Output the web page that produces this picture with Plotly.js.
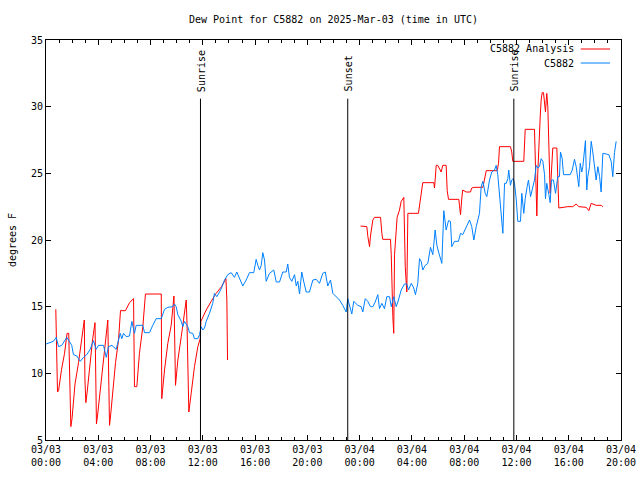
<!DOCTYPE html>
<html>
<head>
<meta charset="utf-8">
<script src="https://cdn.plot.ly/plotly-3.0.1.min.js"></script>
<style>html,body{margin:0;padding:0;background:#fff}#chart{width:640px;height:480px}</style>
</head>
<body>
<div id="chart"></div>
<script>
// Hours after 2025-03-03 00:00 UTC
const obsHours = [0,0.57,0.78,0.96,1.21,1.59,1.72,1.97,2.10,2.36,
2.62,2.87,3.12,3.38,3.63,3.84,4.02,4.40,4.61,4.78,
5.04,5.37,5.55,5.68,5.80,5.93,6.14,6.39,6.57,6.77,
6.90,7.41,7.54,7.92,8.17,8.43,8.82,9.07,9.32,9.70,
9.83,9.96,10.09,10.35,10.47,10.60,10.85,10.98,11.23,11.36,
11.62,11.75,11.88,12.00,12.13,12.26,12.51,12.76,12.89,13.07,
13.28,13.43,13.66,13.91,14.17,14.42,14.60,14.81,15.06,15.32,
15.57,15.90,16.08,16.21,16.34,16.47,16.59,16.72,16.85,17.10,
17.43,17.62,17.87,18.12,18.38,18.50,18.63,18.81,19.02,19.15,
19.27,19.40,19.57,19.73,19.91,20.16,20.42,20.68,20.93,21.18,
21.37,21.56,21.77,21.95,22.21,22.46,22.71,22.97,23.09,23.22,
23.40,23.55,23.74,23.86,24.12,24.24,24.43,24.62,24.83,25.01,
25.19,25.39,25.52,25.70,25.90,26.08,26.29,26.42,26.61,26.80,
26.97,27.18,27.43,27.61,27.74,27.95,28.14,28.27,28.45,28.58,
28.71,28.83,29.02,29.22,29.42,29.60,29.78,29.91,30.04,30.29,
30.44,30.62,30.80,30.95,31.05,31.26,31.56,31.72,31.89,32.15,
32.41,32.58,32.74,32.92,33.17,33.30,33.43,33.61,33.73,33.94,
34.11,34.32,34.45,34.57,34.70,34.83,34.96,35.09,35.22,35.34,
35.41,35.54,35.64,35.75,35.85,35.98,36.10,36.31,36.41,36.56,
36.67,36.82,36.92,37.08,37.25,37.38,37.51,37.63,37.76,37.89,
38.02,38.15,38.22,38.32,38.48,38.58,38.68,38.83,38.99,39.16,
39.29,39.37,39.50,39.60,40.11,40.27,40.44,40.57,40.69,40.77,
40.88,41.00,41.08,41.21,41.28,41.38,41.46,41.59,41.72,41.84,
41.97,42.10,42.23,42.36,42.48,42.61,42.87,43.07,43.25,43.37,
43.50,43.63];
const obsDew = [12.2,12.4,12.7,12.0,12.1,12.7,12.5,12.1,11.4,11.3,
10.9,11.2,11.4,11.8,12.45,11.8,12.1,12.1,11.2,12.0,
12.1,11.8,12.5,13.0,12.6,13.0,12.75,12.8,13.9,13.0,
13.6,13.6,13.05,13.05,13.6,14.1,14.1,14.8,14.95,15.0,
15.2,15.0,14.4,13.9,13.5,13.9,13.5,13.05,13.0,12.6,
12.6,12.9,13.5,13.25,13.4,13.9,14.5,15.25,16.0,15.75,
16.1,16.4,17.0,17.4,17.55,17.2,17.6,17.1,16.55,17.0,
17.55,17.55,18.55,18.1,17.75,18.1,19.05,18.5,16.9,17.5,
17.75,16.85,16.85,17.6,17.6,18.2,17.2,16.9,17.4,16.55,
16.9,15.95,17.6,16.85,16.1,16.1,17.0,17.05,16.75,17.5,
17.6,16.55,17.0,16.0,15.75,15.5,15.1,14.6,15.6,15.1,
14.45,15.4,15.25,15.1,15.0,14.6,15.6,15.4,15.0,15.0,
15.35,15.9,14.85,15.25,14.85,15.75,15.75,15.0,15.75,15.0,
15.5,16.25,16.7,16.7,16.25,16.75,16.4,15.9,16.75,18.6,
18.4,17.75,18.1,18.25,19.45,18.9,20.75,19.6,19.1,18.25,
22.2,20.75,21.45,21.4,19.5,19.9,19.9,20.5,20.4,21.0,
21.5,21.0,20.0,21.0,22.0,24.0,24.4,23.5,23.25,24.5,
25.1,25.25,25.6,24.9,23.25,22.0,20.5,24.25,24.25,24.6,
25.25,24.1,24.5,24.6,24.25,23.1,21.4,21.4,23.5,22.0,
23.1,24.0,24.5,23.25,23.9,24.5,25.6,25.4,25.5,26.1,
25.9,24.9,23.1,24.25,23.4,22.8,24.5,24.5,23.5,24.75,
24.75,26.6,26.1,24.9,24.9,25.25,26.05,25.5,24.6,24.0,
25.75,25.1,25.5,26.75,27.45,23.75,24.75,25.5,27.4,26.6,
25.5,24.5,25.5,24.75,23.6,26.5,26.45,26.4,25.9,24.75,
26.55,27.4];

const analysisHours = [0.75,0.88,0.96,1.19,1.42,1.61,1.74,1.84,1.90,1.99,
2.22,2.49,2.72,2.87,2.93,2.98,3.05,3.14,3.33,3.56,
3.75,3.81,3.86,3.94,4.13,4.32,4.55,4.73,4.81,4.86,
4.94,5.09,5.32,5.55,5.70,6.08,6.39,6.70,6.77,6.95,
7.15,7.41,7.61,8.82,8.86,9.07,9.32,9.58,9.79,9.91,
10.09,10.35,10.60,10.73,10.79,10.93,11.11,11.36,11.62,11.80,
11.85,12.26,12.64,13.02,13.43,13.77,13.84,13.89,
18.00,
24.07,24.55,24.63,24.76,24.83,25.01,25.14,25.60,25.70,25.77,
26.36,26.42,26.54,26.61,26.67,26.80,26.87,27.05,27.18,27.38,
27.49,27.61,27.69,28.50,28.58,28.71,28.83,29.68,29.73,29.86,
29.98,30.24,30.36,30.62,30.70,30.80,31.59,31.64,31.72,31.82,
31.89,32.15,32.48,32.58,32.74,33.43,33.69,34.53,34.63,34.70,
35.54,35.64,35.72,36.56,36.67,37.38,37.50,37.56,37.63,37.71,
37.82,37.89,37.97,38.07,38.15,38.22,38.28,38.32,38.40,38.48,
38.53,38.58,38.66,38.74,38.78,39.09,39.16,39.24,39.93,40.31,
40.57,40.77,41.34,41.54,41.72,41.84,42.10,42.48,42.61];
const analysisDew = [14.8,8.6,8.7,10.3,11.5,13.0,13.0,8.0,6.0,6.6,
9.2,10.8,12.4,13.2,14.0,9.5,7.8,8.5,10.5,12.5,
13.8,10.0,6.2,6.8,8.5,10.5,12.5,14.0,9.0,6.1,
6.8,8.5,10.8,12.5,14.7,14.7,15.3,15.6,9.0,9.0,
11.5,13.5,15.95,15.95,8.1,10.25,12.25,13.6,15.8,9.1,
11.0,12.75,14.5,15.5,13.75,7.1,8.5,10.5,12.0,12.6,
13.9,14.75,15.4,16.0,16.5,17.1,15.5,11.0,
null,
21.05,21.0,20.25,19.5,20.3,21.5,21.7,21.7,20.5,20.05,
20.05,18.9,14.25,13.0,18.9,20.75,21.7,22.25,22.9,23.2,
18.0,16.1,22.0,22.0,22.5,23.6,24.3,24.3,23.9,25.6,
25.6,25.1,25.6,25.6,23.7,23.05,23.05,22.6,21.9,23.15,
23.75,23.6,23.6,23.9,23.95,23.95,25.2,25.2,25.75,27.0,
27.0,26.6,25.9,25.9,28.3,28.3,23.0,21.8,25.0,27.5,
29.3,30.5,31.05,31.05,30.4,29.6,30.5,31.0,30.0,27.0,
25.0,23.5,24.8,26.6,26.9,26.9,23.75,22.4,22.5,22.5,
22.7,22.5,22.45,22.2,22.75,22.7,22.6,22.6,22.5];

const sunLabels = ['Sunrise', 'Sunset', 'Sunrise'];
const sunHours = [11.82, 23.09, 35.80];
const sunLineTop = 30.6;

const seriesNames = ['C5882 Analysis', 'C5882'];
const seriesColors = ['#ff0000', '#0080ff'];

const T0 = Date.UTC(2025, 2, 3);
function toTime(h) {
  return new Date(T0 + Math.round(h * 3600000)).toISOString().slice(0, 19).replace('T', ' ');
}

const traces = [
  { x: analysisHours.map(toTime), y: analysisDew, type: 'scatter', mode: 'lines',
    name: seriesNames[0], line: { color: seriesColors[0], width: 1 }, connectgaps: false, showlegend: false },
  { x: obsHours.map(toTime), y: obsDew, type: 'scatter', mode: 'lines',
    name: seriesNames[1], line: { color: seriesColors[1], width: 1 }, showlegend: false }
];

const shapes = sunHours.map(h => ({
  type: 'line', xref: 'x', yref: 'y', x0: toTime(h), x1: toTime(h), y0: 5, y1: sunLineTop,
  line: { color: 'black', width: 1 }
}));
const annotations = sunHours.map((h, i) => ({
  x: toTime(h), y: sunLineTop, xref: 'x', yref: 'y', text: sunLabels[i], showarrow: false,
  textangle: -90, xanchor: 'center', yanchor: 'bottom', yshift: 5, xshift: 1,
  font: { family: 'DejaVu Sans Mono', size: 10, color: 'black' }
}));
// gnuplot-style key (text right-aligned, sample line to the right)
const keyY = [0.9775, 0.9425];
seriesNames.forEach((n, i) => {
  annotations.push({ x: 0.921, y: keyY[i], xref: 'paper', yref: 'paper', text: n, showarrow: false,
    xanchor: 'right', yanchor: 'middle', font: { family: 'DejaVu Sans Mono', size: 10, color: 'black' } });
  shapes.push({ type: 'line', xref: 'paper', yref: 'paper', x0: 0.930, x1: 0.981, y0: keyY[i], y1: keyY[i],
    line: { color: seriesColors[i], width: 1 } });
});

const layout = {
  width: 640, height: 480,
  paper_bgcolor: '#fff', plot_bgcolor: '#fff',
  font: { family: 'DejaVu Sans Mono', size: 10, color: 'black' },
  margin: { l: 46, r: 19, t: 40, b: 40, pad: 0 },
  title: { text: 'Dew Point for C5882 on 2025-Mar-03 (time in UTC)', x: 0.5, xref: 'paper',
    y: 1 - 19 / 480, yref: 'container', yanchor: 'middle', font: { size: 10, color: 'black' } },
  showlegend: false,
  xaxis: {
    type: 'date', range: ['2025-03-03 00:00:00', '2025-03-04 20:00:00'],
    showline: true, linecolor: 'black', linewidth: 1, mirror: 'ticks',
    ticks: 'inside', ticklen: 5, tickcolor: 'black', tickwidth: 1,
    tick0: '2025-03-03 00:00:00', dtick: 4 * 3600000, tickformat: '%m/%d<br>%H:%M',
    showgrid: false, zeroline: false,
    minor: { dtick: 3600000, ticks: 'inside', ticklen: 3, tickcolor: 'black', tickwidth: 1, showgrid: false }
  },
  yaxis: {
    range: [5, 35], dtick: 5, tick0: 5,
    showline: true, linecolor: 'black', linewidth: 1, mirror: 'ticks',
    ticks: 'inside', ticklen: 5, tickcolor: 'black', tickwidth: 1,
    showgrid: false, zeroline: false,
    title: { text: 'degrees F', standoff: 12, font: { size: 10 } }
  },
  shapes: shapes,
  annotations: annotations
};

Plotly.newPlot('chart', traces, layout, { staticPlot: true, displayModeBar: false });
</script>
</body>
</html>
